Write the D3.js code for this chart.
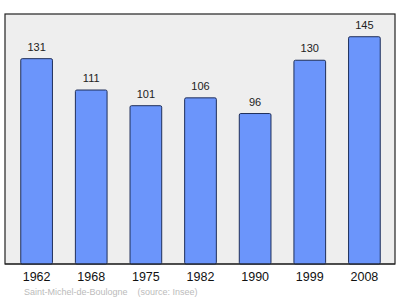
<!DOCTYPE html>
<html>
<head>
<meta charset="utf-8">
<script src="https://cdn.jsdelivr.net/npm/d3@7"></script>
<style>
  body { margin: 0; background: #fff; }
  svg { display: block; }
</style>
</head>
<body>
<div id="chart"></div>
<script>
// Population chart, drawn with D3

const years = ['1962', '1968', '1975', '1982', '1990', '1999', '2008'];
const population = [131, 111, 101, 106, 96, 130, 145];
const caption = 'Saint-Michel-de-Boulogne    (source: Insee)';

const width = 400, height = 299;
const plot = { left: 5, right: 395, top: 14, bottom: 264 };       // framed plot area

const svg = d3.select('#chart').append('svg')
              .attr('width', width)
              .attr('height', height);

// background frame
svg.append('rect')
   .attr('x', plot.left).attr('y', plot.top)
   .attr('width', plot.right - plot.left)
   .attr('height', plot.bottom - plot.top)
   .attr('fill', '#eeeeee')
   .attr('stroke', '#222')
   .attr('stroke-width', 1.2);

const x = d3.scaleBand()
            .domain(years)
            .range([plot.left + 1, plot.right])
            .paddingInner(0.42)
            .paddingOuter(0.27);

const y = d3.scaleLinear()
            .domain([0, d3.max(population) * 1.1])
            .range([plot.bottom, plot.top]);

const data = years.map((yr, i) => ({ year: yr, value: population[i] }));

svg.selectAll('rect.bar')
   .data(data)
   .enter()
   .append('rect')
   .attr('class', 'bar')
   .attr('x', d => x(d.year))
   .attr('y', d => y(d.value))
   .attr('width', x.bandwidth())
   .attr('height', d => y(0) - y(d.value))
   .attr('rx', 1.5)
   .attr('fill', '#6b95fb')
   .attr('stroke', '#1f2f5a')
   .attr('stroke-width', 1);

// value labels above bars
svg.selectAll('text.val')
   .data(data)
   .enter()
   .append('text')
   .attr('class', 'val')
   .attr('x', d => x(d.year) + x.bandwidth() / 2)
   .attr('y', d => y(d.value) - 8)
   .attr('text-anchor', 'middle')
   .attr('font-family', 'Liberation Sans, Arial, sans-serif')
   .attr('font-size', 11)
   .attr('fill', '#222')
   .text(d => d.value);

// year axis (no line, just labels)
const xAxis = svg.append('g')
   .attr('transform', 'translate(0,' + plot.bottom + ')')
   .call(d3.axisBottom(x).tickSize(0).tickPadding(8.5));
xAxis.select('.domain').remove();
xAxis.selectAll('.tick text')
     .attr('font-family', 'Liberation Sans, Arial, sans-serif')
     .attr('font-size', 12.5)
     .attr('fill', '#111');

// redraw frame bottom line over bars
svg.append('line')
   .attr('x1', plot.left).attr('x2', plot.right)
   .attr('y1', plot.bottom).attr('y2', plot.bottom)
   .attr('stroke', '#222')
   .attr('stroke-width', 1.2);

svg.append('text')
   .attr('x', 24)
   .attr('y', 295)
   .attr('font-family', 'Liberation Sans, Arial, sans-serif')
   .attr('font-size', 9)
   .attr('fill', '#bbbbbb')
   .attr('xml:space', 'preserve')
   .style('white-space', 'pre')
   .text(caption);
</script>
</body>
</html>
